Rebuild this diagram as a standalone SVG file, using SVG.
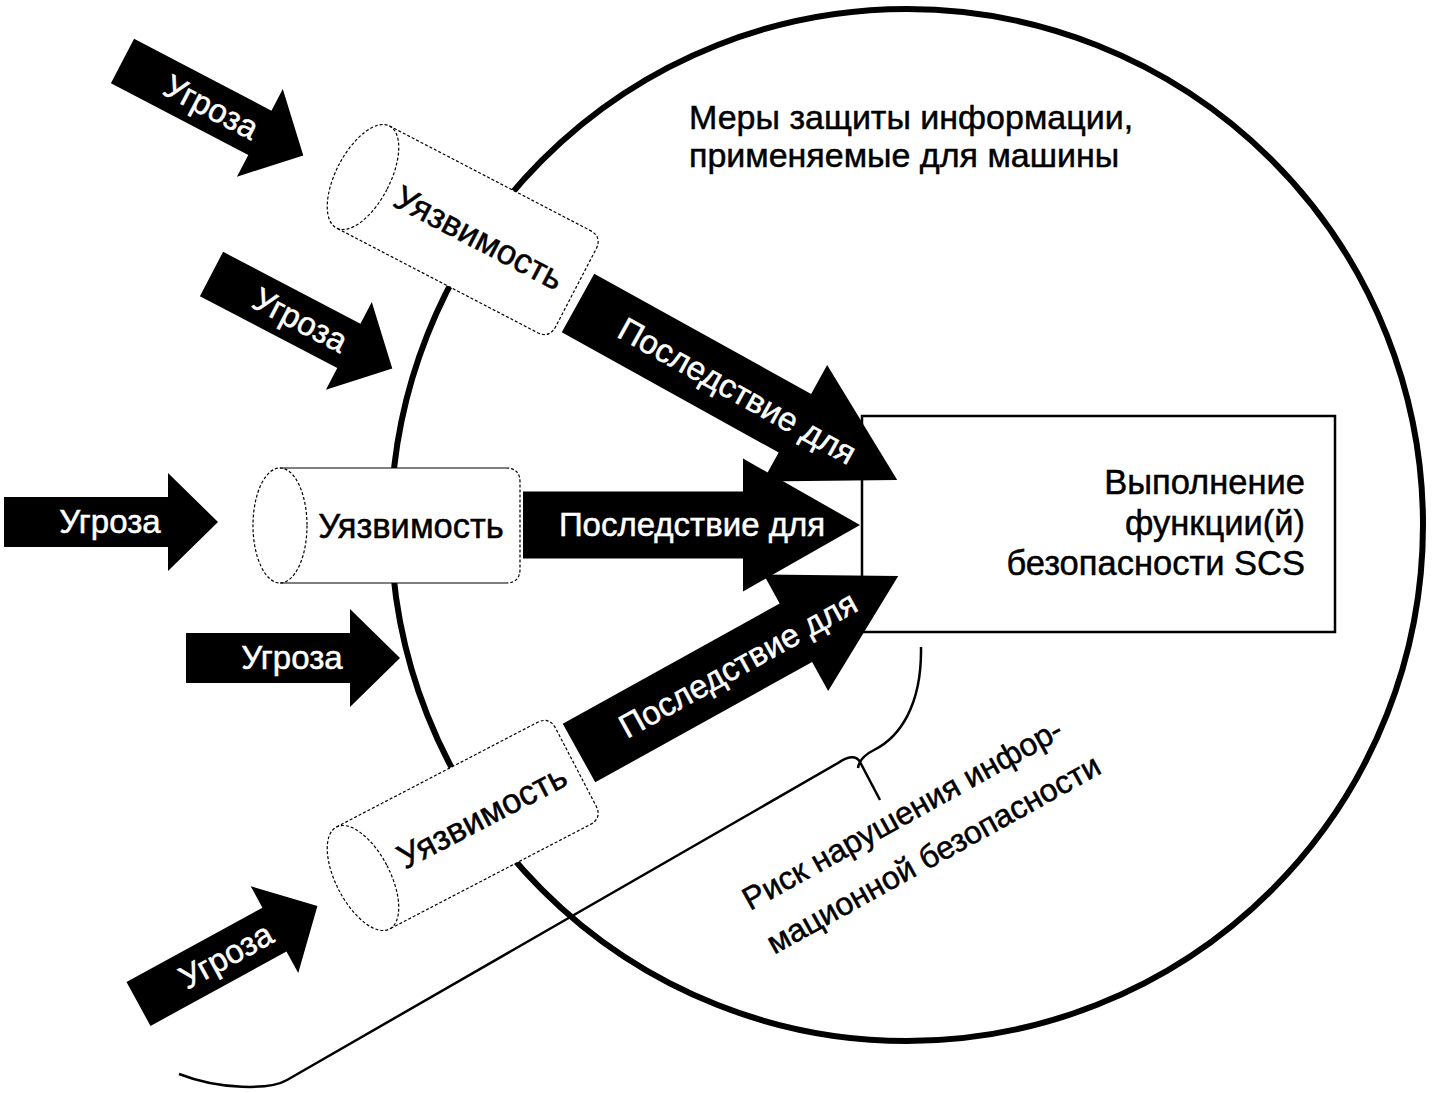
<svg xmlns="http://www.w3.org/2000/svg" width="1433" height="1093" viewBox="0 0 1433 1093">
<style>
text{font-family:"Liberation Sans",Arial,sans-serif;font-size:34px;fill:#000;stroke:#000;stroke-width:0.5}
text.w{fill:#fff;stroke:#fff;font-size:33px}
text.c{font-size:34.5px}
text.r{font-size:32px}
.arr{fill:#000}
.cylf{fill:#fff;stroke:none}
.cyll{fill:none;stroke:#000;stroke-width:1.2}
.cyld{fill:none;stroke:#000;stroke-width:1.2;stroke-dasharray:3 2}
.ring{fill:none;stroke:#000;stroke-width:6}
.box{fill:#fff;stroke:#000;stroke-width:2.5}
.brace{fill:none;stroke:#000;stroke-width:2.5}
</style>
<defs>
<path id="thr" d="M0,-25 H155 V-49.5 L204,0 L155,49.5 V25 H0 Z"/>
<path id="thrh" d="M0,-25 H164 V-49 L214,0 L164,49 V25 H0 Z"/>
<path id="csq" d="M0,-33.5 H248 V-66.5 L365,0 L248,66.5 V33.5 H0 Z"/>
<path id="cylfill" d="M0,-57.5 H226 Q240,-57.5 240,-43.5 V43.5 Q240,57.5 226,57.5 H0 A27,57.5 0 0 1 0,-57.5 Z"/>
</defs>

<g id="boundary">
<circle class="ring" cx="907" cy="525" r="516"/>
<text x="689" y="129">Меры защиты информации,</text>
<text x="689" y="167">применяемые для машины</text>
</g>

<g id="target">
<rect class="box" x="862" y="416" width="473" height="216"/>
<text class="c" x="1305" y="494" text-anchor="end">Выполнение</text>
<text class="c" x="1305" y="535" text-anchor="end">функции(й)</text>
<text class="c" x="1305" y="575" text-anchor="end">безопасности SCS</text>
</g>

<g id="vuln-top" transform="translate(363,177) rotate(27.5)">
<use href="#cylfill" class="cylf"/>
<path class="cyld" d="M0,-57.5 H226 Q240,-57.5 240,-43.5 V43.5 Q240,57.5 226,57.5 H0"/>
<ellipse class="cyld" cx="0" cy="0" rx="27" ry="57.5"/>
<text class="c" x="131" y="12" text-anchor="middle">Уязвимость</text>
</g>

<g id="vuln-mid" transform="translate(280,525.5)">
<use href="#cylfill" class="cylf"/>
<path class="cyll" d="M0,-57.5 H226 M0,57.5 H226"/>
<path class="cyld" d="M226,-57.5 Q240,-57.5 240,-43.5 V43.5 Q240,57.5 226,57.5"/>
<ellipse class="cyld" cx="0" cy="0" rx="27" ry="57.5"/>
<text class="c" x="131" y="12" text-anchor="middle">Уязвимость</text>
</g>

<g id="vuln-bot" transform="translate(363,878) rotate(-27.5)">
<use href="#cylfill" class="cylf"/>
<path class="cyld" d="M0,-57.5 H226 Q240,-57.5 240,-43.5 V43.5 Q240,57.5 226,57.5 H0"/>
<ellipse class="cyld" cx="0" cy="0" rx="27" ry="57.5"/>
<text class="c" x="134" y="12" text-anchor="middle">Уязвимость</text>
</g>

<g id="threat-1" transform="translate(122.5,61) rotate(27.6)">
<use href="#thr" class="arr"/>
<text class="w" x="100" y="11" text-anchor="middle">Угроза</text>
</g>
<g id="threat-2" transform="translate(211.5,274) rotate(27.6)">
<use href="#thr" class="arr"/>
<text class="w" x="100" y="11" text-anchor="middle">Угроза</text>
</g>
<g id="threat-3" transform="translate(4,522)">
<use href="#thrh" class="arr"/>
<text class="w" x="106" y="11" text-anchor="middle">Угроза</text>
</g>
<g id="threat-4" transform="translate(186,658)">
<use href="#thrh" class="arr"/>
<text class="w" x="106" y="11" text-anchor="middle">Угроза</text>
</g>
<g id="threat-5" transform="translate(138.5,1004) rotate(-28.7)">
<use href="#thr" class="arr"/>
<text class="w" x="100" y="11" text-anchor="middle">Угроза</text>
</g>

<g id="conseq-top" transform="translate(578,303) rotate(29)">
<use href="#csq" class="arr"/>
<text class="w" x="182" y="11" text-anchor="middle">Последствие для</text>
</g>
<g id="conseq-mid" transform="translate(523,525)">
<path class="arr" d="M0,-33.5 H220 V-66.5 L337,0 L220,66.5 V33.5 H0 Z"/>
<text class="w" x="169" y="11" text-anchor="middle">Последствие для</text>
</g>
<g id="conseq-bot" transform="translate(579,753) rotate(-29)">
<use href="#csq" class="arr"/>
<text class="w" x="182" y="11" text-anchor="middle">Последствие для</text>
</g>

<g id="connectors">
<path class="brace" d="M921,647 C922,705 900,737 874,750 C864,755 859,760 858,768 M880,800 L860,762 C856,755 848,756 838,763 L287,1080 C270,1090 220,1090 179,1074"/>
</g>

<g id="risk-label" transform="translate(750,911) rotate(-29)">
<text class="r" x="0" y="0">Риск нарушения инфор-</text>
<text class="r" x="0" y="50">мационной безопасности</text>
</g>
</svg>
